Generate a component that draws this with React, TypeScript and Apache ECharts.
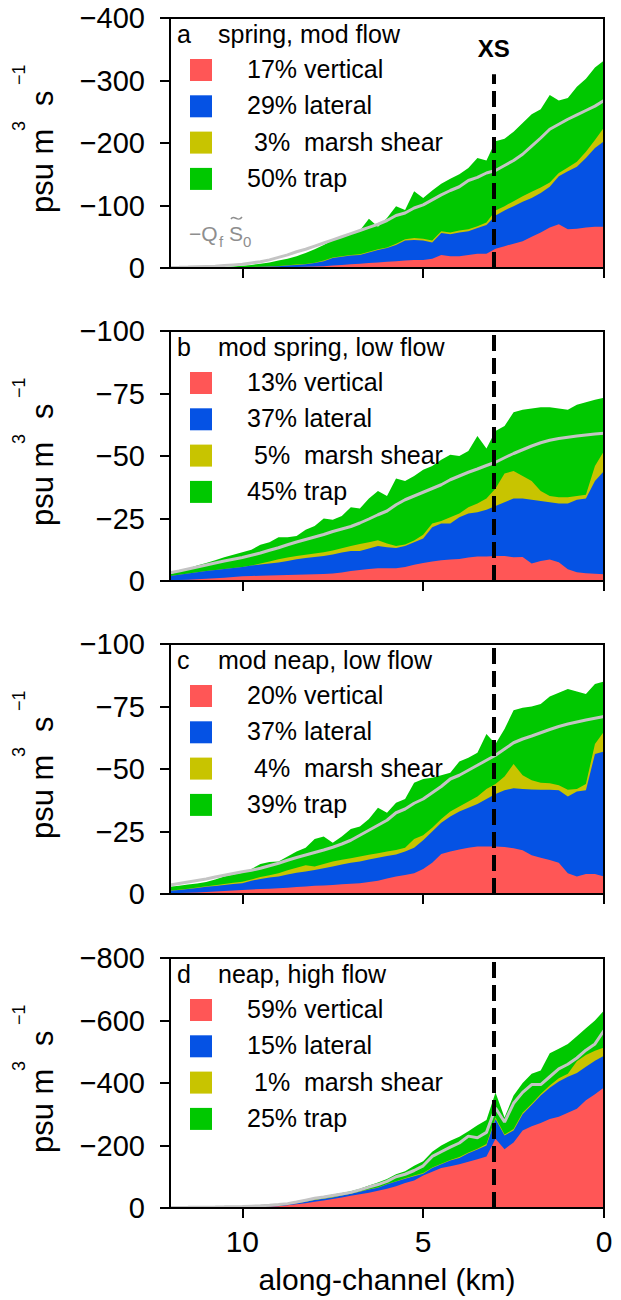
import { useEffect, useRef } from "react";
import * as echarts from "echarts";

const FONT = "'Liberation Sans', Arial, Helvetica, sans-serif";

// Along-channel distance of every sample (km)
const KM = [
  0, 0.25, 0.5, 0.75, 1, 1.25, 1.5, 1.75, 2, 2.25, 2.5, 2.75, 3, 3.25, 3.5, 3.75,
  4, 4.25, 4.5, 4.75, 5, 5.25, 5.5, 5.75, 6, 6.25, 6.5, 6.75, 7, 7.25, 7.5, 7.75,
  8, 8.25, 8.5, 8.75, 9, 9.25, 9.5, 9.75, 10, 10.25, 10.5, 10.75, 11, 11.25, 11.5,
  11.75, 12,
];

const XS_KM = 3.05;
const X_TICKS = [0, 5, 10];

const LAYERS = ["vertical", "lateral", "marsh shear", "trap"];
const LAYER_COLORS = ["#ff5656", "#0552e4", "#c8c400", "#00c800"];

// Each *Edge array is the upper edge (cumulative magnitude, psu m^3 s^-1)
// of that layer, i.e. the running total of the layers up to and including it.

// a: spring, mod flow
const aVerticalEdge = [66, 66, 65, 63, 62, 70, 65, 57, 50, 43, 39, 35, 31, 23, 23, 21, 19, 19, 21, 15, 13, 13, 12, 11, 10, 9, 8, 7, 6, 5, 4, 3, 2.5, 2, 1.5, 1.2, 1, 0.8, 0.6, 0.5, 0.4, 0.3, 0.3, 0.2, 0.2, 0.1, 0.1, 0.1, 0.1];
const aLateralEdge = [203, 192, 176, 162, 155, 147, 130, 120, 112, 106, 99, 92, 84, 69, 64, 59, 57, 54, 56, 41, 44, 45, 44, 37, 32, 29, 25, 21, 20, 18, 16, 11, 8, 6, 5, 4, 3, 2.5, 2, 1.6, 1.2, 1, 0.8, 0.6, 0.5, 0.4, 0.3, 0.2, 0.2];
const aMarshEdge = [225, 205, 186, 170, 161, 152, 137, 129, 122, 115, 107, 99, 92, 73, 67, 62, 60, 57, 59, 44, 47, 48, 46, 39, 33, 30, 26, 22, 21, 19, 17, 12, 8.5, 6.5, 5.5, 4.5, 3.3, 2.7, 2.1, 1.7, 1.3, 1, 0.8, 0.6, 0.5, 0.4, 0.3, 0.2, 0.2];
const aTrapEdge = [332, 321, 303, 290, 272, 268, 277, 254, 246, 232, 218, 207, 203, 172, 176, 160, 150, 143, 135, 124, 112, 123, 93, 99, 80, 66, 79, 60, 54, 51, 45, 37, 30, 24, 19, 15, 12, 9, 7, 5, 3.5, 2.5, 1.8, 1.3, 1, 0.7, 0.5, 0.3, 0.2];
const aQfS0 = [268, 259, 252, 245, 238, 230, 222, 208, 195, 182, 172, 164, 156, 152, 145, 140, 130, 124, 117, 109, 101, 96, 88, 84, 76, 70, 65, 60, 55, 50, 45, 40, 35, 30, 26, 21, 17, 13, 10, 8, 6, 5, 4, 3, 2.5, 2, 1.5, 1.2, 1];
const aPercent = [17, 29, 3, 50];

// b: mod spring, low flow
const bVerticalEdge = [2.7, 2.9, 3.1, 3.5, 4.7, 7.5, 8.6, 8.0, 7.0, 9.6, 9.5, 10, 10, 9.8, 9.8, 9.4, 8.8, 8.6, 8.3, 7.8, 7.2, 6.5, 5.6, 5.1, 5.1, 5.1, 4.8, 4.4, 4.0, 3.4, 3.0, 2.8, 2.7, 2.6, 2.5, 2.4, 2.3, 2.2, 2.1, 2.0, 1.9, 1.6, 1.3, 1.1, 0.9, 0.7, 0.5, 0.4, 0.3];
const bLateralEdge = [44, 40, 33, 32.5, 31, 31, 31.5, 32, 32.5, 33, 33, 31.5, 30, 28.5, 27.5, 27, 25.5, 23, 23, 21.5, 17, 15.5, 14, 13.2, 13.5, 14, 13, 12, 12, 11.4, 10.6, 10, 9.6, 9.2, 8.7, 8, 7.4, 7, 6.6, 6.2, 5.6, 5.2, 4.8, 4.4, 4, 3.5, 3, 2.5, 2];
const bMarshEdge = [52, 46, 34.5, 34, 33.5, 33.5, 34, 36, 40, 42, 44, 43, 37, 33, 31, 29.5, 27, 25.5, 24, 23, 18.5, 16.2, 14.6, 14, 15, 16.3, 15.5, 14.8, 14, 13.1, 12.2, 11.5, 11, 10.5, 10, 9.4, 8.7, 7.8, 7, 6.2, 5.6, 5.2, 4.8, 4.4, 4, 3.5, 3, 2.5, 2];
const bTrapEdge = [73.3, 72.5, 71.5, 70.5, 68.5, 69, 69.5, 69.5, 69, 68.5, 67.5, 62, 60, 53, 58, 52, 50, 50.5, 48.5, 46, 44.5, 42, 40, 41, 34, 36, 33, 29, 29.5, 26, 24.5, 25, 22, 20.5, 18, 17.5, 17.5, 15.5, 14.5, 12.5, 11.5, 10.5, 9.5, 8.3, 7.2, 6.2, 5, 3.8, 2.7];
const bQfS0 = [59.1, 58.8, 58.4, 58, 57.5, 57, 56.3, 55.3, 54, 52.5, 51, 49.3, 47.5, 46.2, 44.8, 43.5, 42, 40.5, 38.5, 37, 35.5, 34, 32.5, 30.5, 28, 26.5, 24.8, 23.2, 21.8, 20.8, 19.8, 18.6, 17.6, 16.6, 15.6, 14.5, 13.3, 12.3, 11.2, 10.3, 9.4, 8.7, 8, 7.2, 6.4, 5.6, 4.8, 4, 3.3];
const bPercent = [13, 37, 5, 45];

// c: mod neap, low flow
const cVerticalEdge = [7, 8, 8, 7, 8.3, 12.5, 13.6, 14.5, 15.5, 17.5, 18.3, 18.8, 19, 19, 19, 18.5, 17.8, 17, 16, 12.5, 10, 8.3, 7.6, 7, 6.2, 5.3, 4.8, 4.3, 4.1, 3.9, 3.6, 3.4, 3.3, 3.0, 2.8, 2.5, 2.3, 2.1, 2.0, 1.8, 1.6, 1.4, 1.2, 1.0, 0.8, 0.6, 0.5, 0.4, 0.3];
const cLateralEdge = [57, 56, 41.5, 41, 39, 41.5, 41.7, 41.7, 41.8, 42, 42.3, 41.5, 40, 38, 36, 34.5, 33, 31, 28.5, 25, 21.5, 18.5, 17, 15.8, 15.2, 14.5, 13.8, 13, 12.5, 11.8, 11, 10.3, 9.6, 9, 8.5, 7.8, 7, 6.6, 6, 5.3, 4.3, 4, 3.6, 3.2, 2.9, 2.4, 2, 1.6, 1.3];
const cMarshEdge = [65, 60, 44, 42, 41.7, 43.5, 44.3, 44.5, 45.5, 47.5, 52, 47, 44, 42, 39, 37, 35, 33, 30, 26.5, 23.5, 22, 18.5, 17.6, 17, 16.3, 15.7, 15, 14.3, 13.7, 13, 12, 11, 11.5, 10.5, 9.5, 8.3, 7.5, 6.8, 5.8, 4.9, 4.5, 4, 3.5, 3.1, 2.6, 2.1, 1.7, 1.4];
const cTrapEdge = [85, 84, 80, 81, 82, 80.5, 79, 76, 75, 74.5, 73.5, 66, 60, 64, 56.5, 54.5, 53, 48.5, 47.5, 46.5, 46, 44.5, 38, 36.5, 32.5, 34.5, 30, 27, 26, 23, 20.5, 23, 22, 18.5, 17, 15, 13, 12.8, 12, 10, 8.5, 7.8, 7, 5.8, 4.8, 4.2, 3.8, 3.3, 2.9];
const cQfS0 = [71, 70.3, 69.6, 68.8, 68, 67, 65.8, 64.5, 63.2, 62, 60.5, 58, 55.5, 53.5, 51.5, 49.5, 47.5, 46, 43, 40.5, 38, 36.3, 34, 32.5, 29.5, 27.5, 25.5, 23.5, 21.5, 20, 18.7, 17.6, 16.6, 15.6, 14.6, 13.5, 12.3, 11.3, 10.3, 9.5, 8.9, 8.2, 7.5, 6.8, 6, 5.4, 4.8, 4.2, 3.6];
const cPercent = [20, 37, 4, 39];

// d: neap, high flow
const dVerticalEdge = [386, 364, 345, 318, 305, 292, 285, 272, 262, 248, 210, 188, 222, 165, 156, 148, 140, 134, 128, 116, 104, 88, 80, 70, 62, 55, 49, 44, 39, 34, 29, 24, 20, 15, 12, 9, 6, 4.5, 3.5, 2.5, 2, 1.5, 1.2, 1, 0.8, 0.6, 0.5, 0.4, 0.3];
const dLateralEdge = [487, 471, 452, 432, 420, 405, 385, 360, 330, 300, 248, 232, 285, 200, 187, 175, 160, 152, 140, 128, 110, 102, 94, 85, 76, 65, 59, 52, 46, 40, 34, 30, 26, 20, 15, 11, 7, 5.3, 4, 3, 2.3, 1.8, 1.4, 1.1, 0.9, 0.7, 0.6, 0.5, 0.4];
const dMarshEdge = [514, 503, 490, 470, 430, 415, 392, 365, 334, 305, 253, 235, 290, 205, 190, 178, 163, 154, 142, 130, 112, 104, 95.5, 86, 77, 66, 60, 53, 47, 41, 35, 31, 27, 21, 16, 11.5, 7.5, 5.6, 4.2, 3.2, 2.4, 1.9, 1.5, 1.2, 1, 0.8, 0.6, 0.5, 0.4];
const dTrapEdge = [632, 600, 575, 550, 525, 510, 495, 440, 430, 400, 360, 290, 370, 282, 265, 246, 228, 215, 200, 180, 150, 135, 118, 108, 93, 82, 72, 62, 54, 48, 43, 38, 33, 26, 20, 14, 10, 7.5, 5.5, 4.5, 3.5, 2.8, 2.2, 1.8, 1.5, 1.2, 1, 0.8, 0.6];
const dQfS0 = [568, 525, 505, 480, 460, 445, 420, 395, 395, 370, 335, 275, 320, 242, 225, 230, 208, 195, 180, 165, 135, 120, 108, 100, 85, 75, 67, 58, 50, 45, 40, 35, 31, 25, 19, 14, 11, 8.5, 7, 6, 5, 4.3, 3.7, 3.2, 2.8, 2.5, 2.2, 2, 1.8];
const dPercent = [59, 15, 1, 25];

const PANELS = [
  { letter: "a", title: "spring, mod flow", edges: [aVerticalEdge, aLateralEdge, aMarshEdge, aTrapEdge], qfs0: aQfS0, pct: aPercent, yMin: -400, yStep: 100, xsTop: -310, xsLabel: true },
  { letter: "b", title: "mod spring, low flow", edges: [bVerticalEdge, bLateralEdge, bMarshEdge, bTrapEdge], qfs0: bQfS0, pct: bPercent, yMin: -100, yStep: 25, xsTop: -100, xsLabel: false },
  { letter: "c", title: "mod neap, low flow", edges: [cVerticalEdge, cLateralEdge, cMarshEdge, cTrapEdge], qfs0: cQfS0, pct: cPercent, yMin: -100, yStep: 25, xsTop: -100, xsLabel: false },
  { letter: "d", title: "neap, high flow", edges: [dVerticalEdge, dLateralEdge, dMarshEdge, dTrapEdge], qfs0: dQfS0, pct: dPercent, yMin: -800, yStep: 200, xsTop: -800, xsLabel: false },
];

// Layout
const GRID_LEFT = 170;
const GRID_WIDTH = 434;
const GRID_HEIGHT = 250;
const GRID_TOPS = [18, 331, 644, 958];

const minusFmt = (v: number) => (v < 0 ? "\u2212" + Math.abs(v) : String(v));

function txt(x: number, y: number, text: string, size: number, extra: any = {}, styleExtra: any = {}) {
  return {
    type: "text",
    x,
    y,
    z: 110,
    silent: true,
    ...extra,
    style: {
      text,
      fontSize: size,
      fontFamily: FONT,
      fill: "#000",
      align: "left",
      textAlign: "left",
      verticalAlign: "middle",
      textVerticalAlign: "middle",
      ...styleExtra,
    },
  };
}

function buildOption() {
  const series: any[] = [];
  const graphic: any[] = [];

  PANELS.forEach((p, pi) => {
    // running totals drawn from the axis: the widest (trap) first, vertical last on top
    for (let li = p.edges.length - 1; li >= 0; li--) {
      const edge = p.edges[li];
      series.push({
        type: "line",
        name: LAYERS[li],
        xAxisIndex: pi,
        yAxisIndex: pi,
        symbol: "none",
        showSymbol: false,
        lineStyle: { width: 0, opacity: 0 },
        itemStyle: { color: LAYER_COLORS[li] },
        areaStyle: { color: LAYER_COLORS[li], opacity: 1, origin: 0 },
        z: 2,
        silent: true,
        data: KM.map((x, i) => [x, -edge[i]]),
      });
    }

    series.push({
      type: "line",
      name: "-QfS0",
      xAxisIndex: pi,
      yAxisIndex: pi,
      symbol: "none",
      showSymbol: false,
      lineStyle: { color: "#c4c4c4", width: 3 },
      z: 3,
      silent: true,
      data: KM.map((x, i) => [x, -p.qfs0[i]]),
      markLine: {
        silent: true,
        symbol: ["none", "none"],
        animation: false,
        lineStyle: { color: "#000", width: 4, type: [16, 7] },
        label: p.xsLabel
          ? { show: true, position: "end", formatter: "XS", distance: 14, color: "#000", fontSize: 24, fontWeight: "bold", fontFamily: FONT }
          : { show: false },
        data: [[{ coord: [XS_KM, 0] }, { coord: [XS_KM, p.xsTop] }]],
      },
    });

    const top = GRID_TOPS[pi];
    const cy = top + GRID_HEIGHT / 2;

    // plot frame
    graphic.push({
      type: "rect",
      z: 100,
      silent: true,
      shape: { x: GRID_LEFT, y: top, width: GRID_WIDTH, height: GRID_HEIGHT },
      style: { fill: "none", stroke: "#000", lineWidth: 2 },
    });

    // panel title
    graphic.push(txt(177, top + 16, p.letter, 25));
    graphic.push(txt(218, top + 16, p.title, 25));

    // legend
    LAYERS.forEach((name, li) => {
      const ry = top + 41 + li * 36.3;
      graphic.push({
        type: "rect",
        z: 110,
        silent: true,
        shape: { x: 190, y: ry, width: 22, height: 22 },
        style: { fill: LAYER_COLORS[li] },
      });
      const pct = p.pct[li];
      graphic.push(txt(247 + (pct < 10 ? 7 : 0), ry + 10, pct + "%", 25));
      graphic.push(txt(304, ry + 10, name, 25));
    });

    // y-axis title: psu m^3 s^-1
    const rot = { rotation: Math.PI / 2 };
    graphic.push(txt(42, cy + 70, "psu m", 31, rot));
    graphic.push(txt(19, cy - 12, "3", 18, rot));
    graphic.push(txt(42, cy - 37, "s", 31, rot));
    graphic.push(txt(19, cy - 58, "\u22121", 18, rot));
  });

  // −Q_f S̃_0 annotation in panel a
  const grey = { fill: "#8e8e8e" };
  graphic.push(txt(189, 233, "\u2212Q", 21, {}, grey));
  graphic.push(txt(219, 241, "f", 15, {}, grey));
  graphic.push(txt(229, 233, "S", 21, {}, grey));
  graphic.push({
    type: "bezierCurve",
    z: 110,
    silent: true,
    shape: { x1: 231, y1: 219, cpx1: 234, cpy1: 214, cpx2: 238, cpy2: 223, x2: 242, y2: 217 },
    style: { fill: "none", stroke: "#8e8e8e", lineWidth: 1.5 },
  });
  graphic.push(txt(243, 241, "0", 15, {}, grey));

  // x-axis title
  graphic.push(txt(387, 1279, "along-channel (km)", 30, {}, { align: "center", textAlign: "center" }));

  return {
    animation: false,
    backgroundColor: "#fff",
    textStyle: { fontFamily: FONT },
    grid: GRID_TOPS.map((t) => ({
      left: GRID_LEFT,
      top: t,
      width: GRID_WIDTH,
      height: GRID_HEIGHT,
      containLabel: false,
      outerBoundsMode: "none",
    })),
    xAxis: PANELS.map((_, pi) => ({
      type: "value",
      gridIndex: pi,
      position: "bottom",
      min: 0,
      max: 12,
      interval: 5,
      inverse: true,
      axisLine: { show: false, onZero: false },
      splitLine: { show: false },
      axisTick: { show: true, inside: false, length: 10, lineStyle: { color: "#000", width: 2 }, customValues: X_TICKS },
      axisLabel: {
        show: pi === PANELS.length - 1,
        customValues: X_TICKS,
        fontSize: 30,
        fontFamily: FONT,
        color: "#000",
        margin: 18,
      },
    })),
    yAxis: PANELS.map((p, pi) => ({
      type: "value",
      gridIndex: pi,
      position: "left",
      min: p.yMin,
      max: 0,
      interval: p.yStep,
      inverse: true,
      axisLine: { show: false, onZero: false },
      splitLine: { show: false },
      axisTick: { show: true, inside: false, length: 10, lineStyle: { color: "#000", width: 2 } },
      axisLabel: {
        fontSize: 29,
        fontFamily: FONT,
        color: "#000",
        margin: 25,
        formatter: minusFmt,
      },
    })),
    series,
    graphic,
  };
}

export default function App() {
  const ref = useRef<HTMLDivElement>(null);
  useEffect(() => {
    if (!ref.current) return;
    const chart = echarts.init(ref.current, undefined, { renderer: "svg" });
    chart.setOption(buildOption() as any);
    return () => chart.dispose();
  }, []);
  return (
    <div
      ref={ref}
      style={{ position: "absolute", left: 0, top: 0, width: 621, height: 1300, background: "#fff" }}
    />
  );
}
